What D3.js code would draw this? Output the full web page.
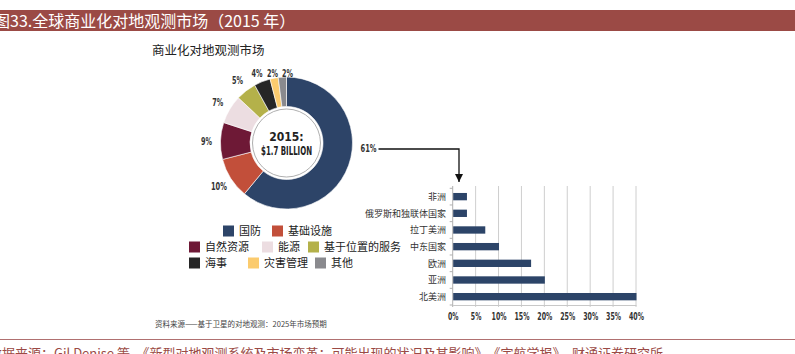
<!DOCTYPE html>
<html>
<head>
<meta charset="utf-8">
<script src="https://cdn.jsdelivr.net/npm/d3@7"></script>
<style>
  body { margin: 0; background: #fff; }
  svg { display: block; }
  .cjk { font-family: "Noto Sans CJK SC", "Noto Sans", sans-serif; }
  .num { font-family: "DejaVu Sans Condensed", "DejaVu Sans", sans-serif; font-stretch: condensed; font-weight: bold; }
</style>
</head>
<body>
<div id="chart"></div>
<script>
// donut: market share by segment (2015)
const segments = ['国防', '基础设施', '自然资源', '能源', '基于位置的服务', '海事', '灾害管理', '其他'];
const shares = [61, 10, 9, 7, 5, 4, 2, 2];
const segColors = ['#2d4468', '#c24f3a', '#6e1936', '#ecdde1', '#b4b14a', '#262626', '#fbcb6e', '#8a8a8e'];

// bars: share by region
const regions = ['非洲', '俄罗斯和独联体国家', '拉丁美洲', '中东国家', '欧洲', '亚洲', '北美洲'];
const regionShares = [3, 3, 7, 10, 17, 20, 40];
const xTicks = [0, 5, 10, 15, 20, 25, 30, 35, 40];

const W = 795, H = 354;
const svg = d3.select('#chart').append('svg')
    .attr('width', W)
    .attr('height', H);

// header bar
svg.append('rect')
    .attr('x', 0).attr('y', 10)
    .attr('width', W).attr('height', 21)
    .attr('fill', '#9b4a45');
svg.append('text')
    .attr('class', 'cjk')
    .attr('x', -6).attr('y', 26.5)
    .attr('fill', '#fff')
    .style('font-size', '16px')
    .text('图33.全球商业化对地观测市场（2015 年）');

// chart title
svg.append('text')
    .attr('class', 'cjk')
    .attr('x', 152).attr('y', 55)
    .attr('fill', '#222')
    .style('font-size', '12.5px')
    .text('商业化对地观测市场');

// ---- donut ----
const cx = 286.5, cy = 143;
const outerR = 66, innerR = 36.5;
const g = svg.append('g').attr('transform', `translate(${cx},${cy})`);

const pie = d3.pie().sort(null).value(d => d)(shares);
const arc = d3.arc().innerRadius(innerR).outerRadius(outerR);
const labelArc = d3.arc().innerRadius(80).outerRadius(80);

g.selectAll('path.slice')
    .data(pie)
    .enter().append('path')
    .attr('class', 'slice')
    .attr('d', arc)
    .attr('fill', (d, i) => segColors[i])
    .attr('stroke', '#fff')
    .attr('stroke-width', 0.6);

g.append('circle')
    .attr('r', innerR - 2.5)
    .attr('fill', '#fff')
    .attr('stroke', '#9a9a9a')
    .attr('stroke-width', 0.8);

g.append('text').attr('class', 'num')
    .attr('y', -2).attr('text-anchor', 'middle')
    .attr('fill', '#222').style('font-size', '12px')
    .text('2015:');
g.append('text').attr('class', 'num')
    .attr('y', 12).attr('text-anchor', 'middle')
    .attr('fill', '#222').style('font-size', '12px')
    .attr('textLength', 51).attr('lengthAdjust', 'spacingAndGlyphs')
    .text('$1.7 BILLION');

// slice labels (the big slice is labelled at the right, with the arrow)
pie.forEach((d, i) => {
    let x, y, anchor = 'middle';
    if (i === 0) {
        x = outerR + 8; y = 5; anchor = 'start';
    } else {
        [x, y] = labelArc.centroid(d);
        if (y < -70) y = -70;
        if (i === shares.length - 2) x += 1;
        if (i === shares.length - 1) x += 6;
    }
    g.append('text').attr('class', 'num')
        .attr('x', x).attr('y', y + 4)
        .attr('text-anchor', anchor)
        .attr('fill', '#333')
        .style('font-size', '10px')
        .attr('textLength', shares[i] >= 10 ? 16 : 11)
        .attr('lengthAdjust', 'spacingAndGlyphs')
        .text(shares[i] + '%');
});

// arrow from 61% to bar chart
svg.append('defs').append('marker')
    .attr('id', 'arrow')
    .attr('viewBox', '0 0 10 10')
    .attr('refX', 10).attr('refY', 5)
    .attr('markerWidth', 8).attr('markerHeight', 9)
    .attr('orient', 'auto')
    .attr('markerUnits', 'userSpaceOnUse')
    .append('path')
    .attr('d', 'M0,0 L10,5 L0,10 Z')
    .attr('fill', '#111');
svg.append('path')
    .attr('d', `M${cx + outerR + 26},149 H459 V182`)
    .attr('fill', 'none')
    .attr('stroke', '#111')
    .attr('stroke-width', 1.3)
    .attr('marker-end', 'url(#arrow)');

// ---- legend ----
const legendPos = [
    [223, 231], [272, 231],
    [189, 247], [262, 247], [308, 247],
    [189, 263], [248, 263], [315, 263]
];
const legend = svg.append('g');
segments.forEach((s, i) => {
    const [lx, ly] = legendPos[i];
    legend.append('rect')
        .attr('x', lx).attr('y', ly - 5.5)
        .attr('width', 11).attr('height', 11)
        .attr('fill', segColors[i]);
    legend.append('text')
        .attr('class', 'cjk')
        .attr('x', lx + 16).attr('y', ly + 4)
        .attr('fill', '#222')
        .style('font-size', '11px')
        .text(s);
});

// ---- bar chart ----
const x = d3.scaleLinear().domain([0, 40]).range([452.7, 636]);
const y = d3.scaleBand().domain(regions).range([188.3, 305]).paddingInner(0.56).paddingOuter(0.28);

const grid = svg.append('g');
grid.selectAll('line.grid')
    .data(xTicks.slice(1))
    .enter().append('line')
    .attr('x1', d => x(d)).attr('x2', d => x(d))
    .attr('y1', 186).attr('y2', 307)
    .attr('stroke', '#c8c8c8')
    .attr('stroke-width', 0.9);

// bottom axis
const xAxis = svg.append('g')
    .attr('transform', 'translate(0,305)')
    .call(d3.axisBottom(x).tickValues(xTicks).tickSize(0).tickFormat(d => d + '%'));
xAxis.select('.domain').attr('stroke', '#c8c8c8');
xAxis.selectAll('text')
    .attr('class', 'num')
    .attr('dy', '1.15em')
    .attr('fill', '#333')
    .style('font-size', '10px')
    .attr('textLength', d => d >= 10 ? 15 : 10.5)
    .attr('lengthAdjust', 'spacingAndGlyphs');

// left axis with separator ticks
svg.append('line')
    .attr('x1', x(0)).attr('x2', x(0))
    .attr('y1', 186).attr('y2', 307)
    .attr('stroke', '#b0b0b0');
const bounds = regions.map(r => y(r) - y.step() * y.paddingInner() / 2).concat([305]);
svg.selectAll('line.sep')
    .data(bounds)
    .enter().append('line')
    .attr('x1', x(0) - 3).attr('x2', x(0))
    .attr('y1', d => d).attr('y2', d => d)
    .attr('stroke', '#b0b0b0');

svg.selectAll('rect.bar')
    .data(regions)
    .enter().append('rect')
    .attr('class', 'bar')
    .attr('x', x(0) + 0.5)
    .attr('y', d => y(d))
    .attr('width', (d, i) => x(regionShares[i]) - x(0))
    .attr('height', y.bandwidth())
    .attr('fill', '#2c4468');

svg.selectAll('text.region')
    .data(regions)
    .enter().append('text')
    .attr('class', 'cjk')
    .attr('x', 446)
    .attr('y', d => y(d) + y.bandwidth() / 2 + 3.3)
    .attr('text-anchor', 'end')
    .attr('fill', '#333')
    .style('font-size', '9px')
    .text(d => d);

// source note inside figure
svg.append('text')
    .attr('class', 'cjk')
    .attr('x', 155).attr('y', 327)
    .attr('fill', '#444')
    .style('font-size', '7.5px')
    .text('资料来源——基于卫星的对地观测：2025年市场预期');

// footer
svg.append('line')
    .attr('x1', 0).attr('x2', W)
    .attr('y1', 339.5).attr('y2', 339.5)
    .attr('stroke', '#b07070')
    .attr('stroke-width', 1);
svg.append('text')
    .attr('class', 'cjk')
    .attr('x', -11).attr('y', 358)
    .attr('fill', '#9b4a45')
    .style('font-size', '13px')
    .text('数据来源：Gil Denise 等，《新型对地观测系统及市场变革：可能出现的状况及其影响》，《宇航学报》，财通证券研究所');
</script>
</body>
</html>
